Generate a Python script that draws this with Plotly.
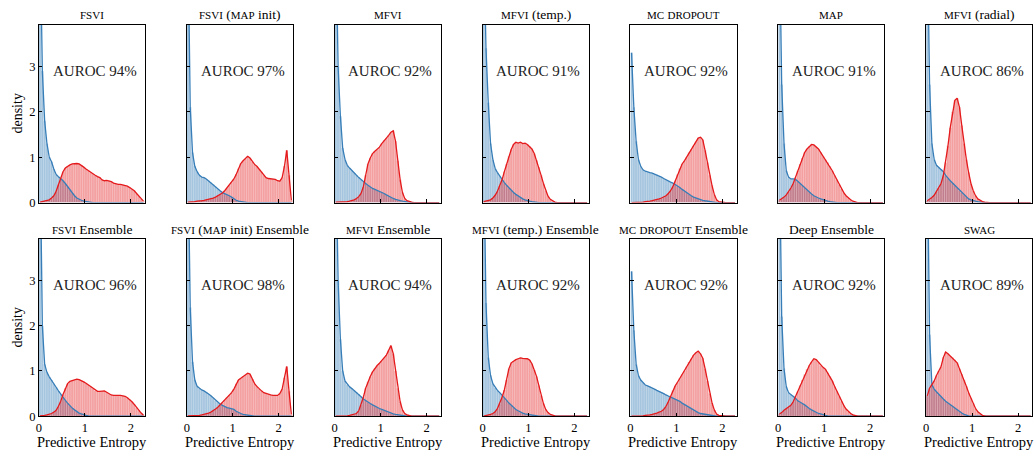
import re
import numpy as np
import plotly.graph_objects as go

# ---------------- data (density per entropy bin of width 0.05 on [0, 2.3]) ----------------
BIN_WIDTH = 0.05
N_BINS = 46

TITLES = ["FSVI", "FSVI (MAP init)", "MFVI", "MFVI (temp.)", "MC DROPOUT", "MAP", "MFVI (radial)",
          "FSVI Ensemble", "FSVI (MAP init) Ensemble", "MFVI Ensemble", "MFVI (temp.) Ensemble",
          "MC DROPOUT Ensemble", "Deep Ensemble", "SWAG"]
AUROC = [94, 97, 92, 91, 92, 91, 86, 96, 98, 94, 92, 92, 92, 89]
X_TICKS = [0, 1, 2]
Y_TICKS = [0, 1, 2, 3]

FSVI_IN = [6.0, 2.9, 1.8, 1.3, 1.0, 0.9, 0.74, 0.62, 0.57, 0.53,
           0.48, 0.42, 0.35, 0.28, 0.21, 0.15, 0.1, 0.07, 0.05, 0.03,
           0.02, 0.01, 0.01, 0, 0, 0, 0, 0, 0, 0,
           0, 0, 0, 0, 0, 0, 0, 0, 0, 0,
           0, 0, 0, 0, 0, 0]
FSVI_OUT = [0.01, 0.02, 0.03, 0.04, 0.06, 0.1, 0.15, 0.25, 0.4, 0.55,
            0.68, 0.76, 0.8, 0.83, 0.85, 0.86, 0.86, 0.85, 0.82, 0.78,
            0.74, 0.7, 0.67, 0.63, 0.6, 0.57, 0.55, 0.5, 0.48, 0.49,
            0.48, 0.46, 0.43, 0.41, 0.4, 0.4, 0.39, 0.38, 0.36, 0.33,
            0.3, 0.26, 0.2, 0.14, 0.08, 0.03]

FSVI_MAP_IN = [6.0, 2.1, 1.1, 0.8, 0.68, 0.6, 0.56, 0.55, 0.52, 0.48,
               0.44, 0.4, 0.35, 0.3, 0.26, 0.22, 0.2, 0.17, 0.15, 0.12,
               0.08, 0.05, 0.03, 0.02, 0.01, 0, 0, 0, 0, 0,
               0, 0, 0, 0, 0, 0, 0, 0, 0, 0,
               0, 0, 0, 0, 0, 0]
FSVI_MAP_OUT = [0.01, 0.01, 0.02, 0.02, 0.03, 0.03, 0.04, 0.05, 0.06, 0.07,
                0.08, 0.1, 0.12, 0.15, 0.18, 0.21, 0.26, 0.32, 0.38, 0.45,
                0.52, 0.62, 0.75, 0.86, 0.92, 0.96, 1.02, 0.98, 0.9, 0.84,
                0.8, 0.74, 0.68, 0.6, 0.55, 0.53, 0.52, 0.52, 0.51, 0.48,
                0.47, 0.55, 0.8, 1.15, 0.6, 0.05]

MFVI_IN = [6.0, 3.0, 1.9, 1.2, 0.95, 0.82, 0.76, 0.7, 0.65, 0.6,
           0.55, 0.5, 0.46, 0.42, 0.38, 0.34, 0.31, 0.29, 0.27, 0.25,
           0.23, 0.2, 0.17, 0.14, 0.11, 0.09, 0.07, 0.05, 0.04, 0.03,
           0.02, 0.01, 0, 0, 0, 0, 0, 0, 0, 0,
           0, 0, 0, 0, 0, 0]
MFVI_OUT = [0.01, 0.01, 0.01, 0.01, 0.02, 0.02, 0.03, 0.04, 0.06, 0.09,
            0.13, 0.2, 0.35, 0.6, 0.85, 0.98, 1.08, 1.13, 1.17, 1.22,
            1.3, 1.37, 1.42, 1.48, 1.55, 1.58, 1.35, 0.92, 0.5, 0.22,
            0.09, 0.04, 0.02, 0.01, 0, 0, 0, 0, 0, 0,
            0, 0, 0, 0, 0, 0]

MFVI_TEMP_IN = [6.0, 3.4, 2.2, 1.3, 0.95, 0.75, 0.66, 0.58, 0.5, 0.44,
                0.38, 0.32, 0.27, 0.22, 0.18, 0.14, 0.11, 0.08, 0.06, 0.04,
                0.03, 0.02, 0.01, 0, 0, 0, 0, 0, 0, 0,
                0, 0, 0, 0, 0, 0, 0, 0, 0, 0,
                0, 0, 0, 0, 0, 0]
MFVI_TEMP_OUT = [0.02, 0.03, 0.04, 0.06, 0.1, 0.16, 0.25, 0.37, 0.5, 0.68,
                 0.85, 1.02, 1.17, 1.28, 1.33, 1.31, 1.33, 1.3, 1.31, 1.28,
                 1.24, 1.18, 1.08, 0.93, 0.78, 0.6, 0.42, 0.26, 0.14, 0.07,
                 0.03, 0.01, 0, 0, 0, 0, 0, 0, 0, 0,
                 0, 0, 0, 0, 0, 0]

MCD_IN = [3.3, 2.1, 1.35, 0.95, 0.8, 0.72, 0.69, 0.67, 0.66, 0.65,
          0.63, 0.61, 0.58, 0.56, 0.53, 0.5, 0.48, 0.45, 0.43, 0.4,
          0.36, 0.33, 0.29, 0.25, 0.21, 0.18, 0.15, 0.12, 0.1, 0.08,
          0.06, 0.05, 0.04, 0.03, 0.02, 0.01, 0, 0, 0, 0,
          0, 0, 0, 0, 0, 0]
MCD_OUT = [0, 0, 0, 0.01, 0.01, 0.01, 0.02, 0.02, 0.03, 0.04,
           0.05, 0.06, 0.08, 0.1, 0.12, 0.15, 0.2, 0.26, 0.35, 0.48,
           0.62, 0.75, 0.85, 0.92, 1.0, 1.1, 1.17, 1.25, 1.34, 1.42,
           1.44, 1.38, 1.15, 0.88, 0.6, 0.38, 0.18, 0.06, 0.02, 0.01,
           0, 0, 0, 0, 0, 0]

MAP_IN = [6.0, 2.6, 1.3, 0.7, 0.56, 0.52, 0.52, 0.51, 0.47, 0.42,
          0.37, 0.32, 0.27, 0.23, 0.19, 0.15, 0.12, 0.1, 0.08, 0.06,
          0.05, 0.03, 0.02, 0.01, 0, 0, 0, 0, 0, 0,
          0, 0, 0, 0, 0, 0, 0, 0, 0, 0,
          0, 0, 0, 0, 0, 0]
MAP_OUT = [0.05, 0.08, 0.12, 0.17, 0.24, 0.32, 0.42, 0.55, 0.7, 0.85,
           0.98, 1.1, 1.18, 1.24, 1.28, 1.27, 1.23, 1.18, 1.1, 1.02,
           0.95, 0.88, 0.8, 0.7, 0.6, 0.5, 0.4, 0.3, 0.22, 0.15,
           0.1, 0.06, 0.03, 0.01, 0, 0, 0, 0, 0, 0,
           0, 0, 0, 0, 0, 0]

MFVI_RAD_IN = [6.0, 2.6, 1.3, 0.95, 0.82, 0.77, 0.74, 0.68, 0.6, 0.53,
               0.48, 0.43, 0.38, 0.32, 0.26, 0.21, 0.16, 0.12, 0.08, 0.06,
               0.04, 0.03, 0.02, 0.01, 0, 0, 0, 0, 0, 0,
               0, 0, 0, 0, 0, 0, 0, 0, 0, 0,
               0, 0, 0, 0, 0, 0]
MFVI_RAD_OUT = [0.04, 0.07, 0.11, 0.16, 0.24, 0.32, 0.42, 0.6, 0.88, 1.25,
                1.65, 2.0, 2.25, 2.3, 2.1, 1.7, 1.3, 0.95, 0.66, 0.42,
                0.26, 0.15, 0.08, 0.04, 0.02, 0.01, 0, 0, 0, 0,
                0, 0, 0, 0, 0, 0, 0, 0, 0, 0,
                0, 0, 0, 0, 0, 0]

FSVI_ENS_IN = [6.0, 2.0, 1.15, 0.97, 0.87, 0.8, 0.72, 0.64, 0.56, 0.48,
               0.42, 0.35, 0.29, 0.23, 0.18, 0.14, 0.1, 0.07, 0.05, 0.03,
               0.02, 0.01, 0, 0, 0, 0, 0, 0, 0, 0,
               0, 0, 0, 0, 0, 0, 0, 0, 0, 0,
               0, 0, 0, 0, 0, 0]
FSVI_ENS_OUT = [0.01, 0.01, 0.02, 0.03, 0.04, 0.06, 0.09, 0.13, 0.22, 0.33,
                0.48, 0.62, 0.72, 0.77, 0.79, 0.8, 0.82, 0.81, 0.79, 0.76,
                0.73, 0.69, 0.65, 0.61, 0.57, 0.55, 0.55, 0.56, 0.56, 0.53,
                0.49, 0.47, 0.46, 0.46, 0.47, 0.46, 0.45, 0.44, 0.41, 0.37,
                0.32, 0.26, 0.19, 0.13, 0.07, 0.02]

FSVI_MAP_ENS_IN = [6.0, 2.4, 1.2, 0.8, 0.66, 0.61, 0.58, 0.56, 0.53, 0.49,
                   0.45, 0.4, 0.35, 0.31, 0.27, 0.24, 0.21, 0.19, 0.18, 0.17,
                   0.15, 0.11, 0.08, 0.06, 0.04, 0.03, 0.02, 0.01, 0, 0,
                   0, 0, 0, 0, 0, 0, 0, 0, 0, 0,
                   0, 0, 0, 0, 0, 0]
FSVI_MAP_ENS_OUT = [0.01, 0.01, 0.01, 0.02, 0.02, 0.02, 0.03, 0.04, 0.05, 0.07,
                    0.09, 0.12, 0.16, 0.2, 0.25, 0.3, 0.36, 0.42, 0.47, 0.52,
                    0.6, 0.72, 0.8, 0.84, 0.88, 0.91, 0.95, 0.93, 0.82, 0.72,
                    0.66, 0.6, 0.56, 0.52, 0.5, 0.48, 0.47, 0.46, 0.46, 0.46,
                    0.5, 0.6, 0.85, 1.1, 0.55, 0.04]

MFVI_ENS_IN = [6.0, 3.0, 1.7, 1.0, 0.78, 0.7, 0.65, 0.61, 0.57, 0.53,
               0.49, 0.43, 0.38, 0.34, 0.31, 0.28, 0.25, 0.22, 0.2, 0.17,
               0.15, 0.13, 0.11, 0.08, 0.06, 0.05, 0.04, 0.03, 0.02, 0.01,
               0, 0, 0, 0, 0, 0, 0, 0, 0, 0,
               0, 0, 0, 0, 0, 0]
MFVI_ENS_OUT = [0, 0, 0.01, 0.01, 0.01, 0.01, 0.02, 0.03, 0.04, 0.06,
                0.12, 0.25, 0.42, 0.62, 0.76, 0.88, 0.98, 1.06, 1.12, 1.17,
                1.22, 1.29, 1.35, 1.45, 1.56, 1.38, 1.0, 0.62, 0.32, 0.14,
                0.06, 0.03, 0.01, 0, 0, 0, 0, 0, 0, 0,
                0, 0, 0, 0, 0, 0]

MFVI_TEMP_ENS_IN = [6.0, 2.5, 1.3, 0.9, 0.72, 0.63, 0.57, 0.52, 0.47, 0.41,
                    0.35, 0.29, 0.24, 0.19, 0.15, 0.12, 0.09, 0.07, 0.05, 0.04,
                    0.03, 0.02, 0.01, 0, 0, 0, 0, 0, 0, 0,
                    0, 0, 0, 0, 0, 0, 0, 0, 0, 0,
                    0, 0, 0, 0, 0, 0]
MFVI_TEMP_ENS_OUT = [0, 0.01, 0.02, 0.04, 0.06, 0.1, 0.17, 0.28, 0.42, 0.58,
                     0.8, 1.05, 1.18, 1.22, 1.25, 1.27, 1.29, 1.28, 1.27, 1.27,
                     1.24, 1.16, 1.02, 0.88, 0.68, 0.46, 0.28, 0.15, 0.08, 0.04,
                     0.02, 0.01, 0, 0, 0, 0, 0, 0, 0, 0,
                     0, 0, 0, 0, 0, 0]

MCD_ENS_IN = [3.2, 1.9, 1.15, 0.9, 0.8, 0.74, 0.69, 0.67, 0.65, 0.62,
              0.6, 0.57, 0.55, 0.53, 0.5, 0.47, 0.44, 0.42, 0.4, 0.38,
              0.35, 0.33, 0.29, 0.26, 0.22, 0.19, 0.16, 0.13, 0.1, 0.08,
              0.06, 0.05, 0.04, 0.03, 0.02, 0.01, 0, 0, 0, 0,
              0, 0, 0, 0, 0, 0]
MCD_ENS_OUT = [0, 0, 0, 0.01, 0.01, 0.01, 0.02, 0.02, 0.03, 0.04,
               0.05, 0.07, 0.09, 0.11, 0.15, 0.22, 0.32, 0.45, 0.57, 0.67,
               0.75, 0.84, 0.93, 1.0, 1.1, 1.2, 1.27, 1.35, 1.4, 1.44,
               1.38, 1.28, 1.05, 0.78, 0.5, 0.3, 0.14, 0.05, 0.02, 0.01,
               0, 0, 0, 0, 0, 0]

DEEP_ENS_IN = [6.0, 2.2, 1.05, 0.65, 0.52, 0.48, 0.45, 0.4, 0.34, 0.3,
               0.28, 0.25, 0.2, 0.17, 0.14, 0.11, 0.08, 0.06, 0.05, 0.03,
               0.02, 0.01, 0, 0, 0, 0, 0, 0, 0, 0,
               0, 0, 0, 0, 0, 0, 0, 0, 0, 0,
               0, 0, 0, 0, 0, 0]
DEEP_ENS_OUT = [0.05, 0.08, 0.13, 0.17, 0.2, 0.24, 0.32, 0.44, 0.55, 0.68,
                0.8, 0.92, 1.04, 1.12, 1.2, 1.27, 1.25, 1.19, 1.12, 1.08,
                1.04, 0.96, 0.88, 0.78, 0.66, 0.55, 0.44, 0.33, 0.24, 0.16,
                0.1, 0.06, 0.03, 0.01, 0, 0, 0, 0, 0, 0,
                0, 0, 0, 0, 0, 0]

SWAG_IN = [6.0, 1.8, 0.7, 0.6, 0.54, 0.48, 0.43, 0.38, 0.33, 0.29,
           0.26, 0.23, 0.19, 0.15, 0.11, 0.07, 0.04, 0.02, 0.01, 0,
           0, 0, 0, 0, 0, 0, 0, 0, 0, 0,
           0, 0, 0, 0, 0, 0, 0, 0, 0, 0,
           0, 0, 0, 0, 0, 0]
SWAG_OUT = [0.45, 0.62, 0.7, 0.78, 0.9, 1.0, 1.1, 1.3, 1.42, 1.38,
            1.33, 1.3, 1.25, 1.18, 1.05, 0.93, 0.8, 0.66, 0.52, 0.4,
            0.28, 0.17, 0.1, 0.05, 0.02, 0.01, 0, 0, 0, 0,
            0, 0, 0, 0, 0, 0, 0, 0, 0, 0,
            0, 0, 0, 0, 0, 0]

IN_DIST = [FSVI_IN, FSVI_MAP_IN, MFVI_IN, MFVI_TEMP_IN, MCD_IN, MAP_IN, MFVI_RAD_IN,
           FSVI_ENS_IN, FSVI_MAP_ENS_IN, MFVI_ENS_IN, MFVI_TEMP_ENS_IN, MCD_ENS_IN, DEEP_ENS_IN, SWAG_IN]
OUT_DIST = [FSVI_OUT, FSVI_MAP_OUT, MFVI_OUT, MFVI_TEMP_OUT, MCD_OUT, MAP_OUT, MFVI_RAD_OUT,
            FSVI_ENS_OUT, FSVI_MAP_ENS_OUT, MFVI_ENS_OUT, MFVI_TEMP_ENS_OUT, MCD_ENS_OUT, DEEP_ENS_OUT, SWAG_OUT]

for a in IN_DIST + OUT_DIST:
    assert len(a) == N_BINS, len(a)

# ---------------- styling ----------------
W, H = 1036, 457
FONT = "'Liberation Serif', 'DejaVu Serif', serif"
BLUE = "#377eb8"
RED = "#e41a1c"
BLUE_FILL = "rgba(55,126,184,0.45)"
RED_FILL = "rgba(228,26,28,0.42)"
BAR_EDGE = "rgba(255,255,255,0.3)"
X_RANGE = [0, 2.31]
Y_RANGE = [0, 3.92]

COL_LEFT0, COL_STEP, COL_W = 36.0, 148.3, 106.5
ROW_TOP = [25.0, 242.5]
ROW_BOT = [205.7, 422.7]
TITLE_Y = [15.0, 233.5]

centers = (np.arange(N_BINS) + 0.5) * BIN_WIDTH


def small_caps(text):
    return re.sub(r"\b([A-Z]{2,})\b", r'<span style="font-size:11px">\1</span>', text)


fig = go.Figure()
layout = dict(width=W, height=H, margin=dict(l=0, r=0, t=0, b=0),
              paper_bgcolor="white", plot_bgcolor="white", barmode="overlay",
              showlegend=False, font=dict(family=FONT, color="black", size=13))
annotations = []

for i in range(14):
    r, c = divmod(i, 7)
    n = i + 1
    xa = "x" if n == 1 else f"x{n}"
    ya = "y" if n == 1 else f"y{n}"
    left = COL_LEFT0 + c * COL_STEP
    right = left + COL_W
    fig.add_trace(go.Bar(x=centers, y=IN_DIST[i], width=BIN_WIDTH, xaxis=xa, yaxis=ya,
                         marker=dict(color=BLUE_FILL, line=dict(color=BAR_EDGE, width=0.5))))
    fig.add_trace(go.Bar(x=centers, y=OUT_DIST[i], width=BIN_WIDTH, xaxis=xa, yaxis=ya,
                         marker=dict(color=RED_FILL, line=dict(color=BAR_EDGE, width=0.5))))
    fig.add_trace(go.Scatter(x=centers, y=IN_DIST[i], mode="lines", xaxis=xa, yaxis=ya,
                             line=dict(color=BLUE, width=1.3)))
    fig.add_trace(go.Scatter(x=centers, y=OUT_DIST[i], mode="lines", xaxis=xa, yaxis=ya,
                             line=dict(color=RED, width=1.3)))

    axis_common = dict(showline=True, mirror=True, linecolor="black", linewidth=1,
                       ticks="inside", ticklen=3.5, tickwidth=1, tickcolor="black",
                       showgrid=False, zeroline=False, tickfont=dict(family=FONT, size=12.5, color="black"))
    layout[f"xaxis{n}"] = dict(domain=[left / W, right / W], range=X_RANGE, tickvals=X_TICKS,
                               showticklabels=(r == 1), anchor=ya, ticklabelstandoff=0, **axis_common)
    layout[f"yaxis{n}"] = dict(domain=[1 - ROW_BOT[r] / H, 1 - ROW_TOP[r] / H], range=Y_RANGE,
                               tickvals=Y_TICKS, showticklabels=(c == 0), anchor=xa, **axis_common)

    annotations.append(dict(text=small_caps(TITLES[i]), x=(left + right) / 2 / W, y=1 - TITLE_Y[r] / H,
                            xref="paper", yref="paper", xanchor="center", yanchor="middle",
                            showarrow=False, font=dict(family=FONT, size=13.5, color="black")))
    annotations.append(dict(text=f"AUROC {AUROC[i]}%", x=0.525, y=0.74,
                            xref=f"{xa} domain", yref=f"{ya} domain", xanchor="center", yanchor="middle",
                            showarrow=False, font=dict(family=FONT, size=15, color="#222222")))
    if r == 1:
        annotations.append(dict(text="Predictive Entropy", x=(left + right) / 2 / W, y=0,
                                xref="paper", yref="paper", xanchor="center", yanchor="bottom",
                                yshift=-1, showarrow=False, borderpad=0,
                                font=dict(family=FONT, size=14.5, color="black")))
    if c == 0:
        annotations.append(dict(text="density", x=15 / W, y=1 - (ROW_TOP[r] + ROW_BOT[r]) / 2 / H,
                                xref="paper", yref="paper", xanchor="center", yanchor="middle",
                                textangle=-90, showarrow=False,
                                font=dict(family=FONT, size=14, color="black")))

layout["annotations"] = annotations
fig.update_layout(**layout)
fig.write_html("out.html")
